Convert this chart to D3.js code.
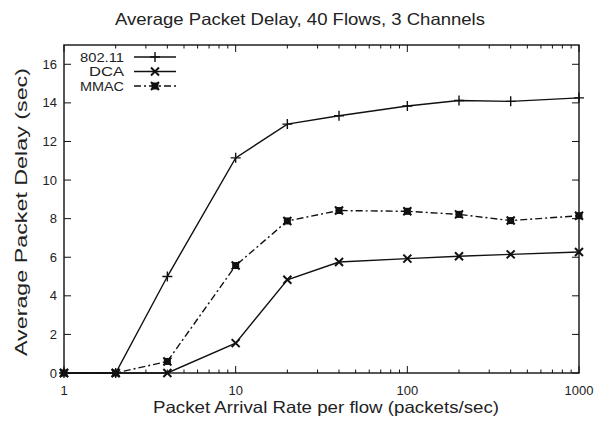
<!DOCTYPE html>
<html>
<head>
<meta charset="utf-8">
<script src="https://cdn.jsdelivr.net/npm/d3@7"></script>
<style>
  body { margin: 0; background: #fff; }
  svg { display: block; font-family: "Liberation Sans", Arial, sans-serif; }
  .lbl { fill: #222; }
</style>
</head>
<body>
<svg id="chart" width="599" height="423"></svg>
<script>
var rates = [1, 2, 4, 10, 20, 40, 100, 200, 400, 1000];
var delay80211 = [0, 0, 5.0, 11.15, 12.9, 13.33, 13.84, 14.12, 14.08, 14.26];
var delayDCA = [0, 0, 0, 1.55, 4.83, 5.75, 5.93, 6.05, 6.15, 6.27];
var delayMMAC = [0, 0, 0.6, 5.57, 7.88, 8.42, 8.38, 8.22, 7.9, 8.15];
var seriesNames = ["802.11", "DCA", "MMAC"];
var xTickLabels = [1, 10, 100, 1000];
var yTickLabels = [0, 2, 4, 6, 8, 10, 12, 14, 16];

var svg = d3.select("#chart"),
    MARGINS = { top: 45, right: 20, bottom: 50, left: 64 },
    WIDTH = 599,
    HEIGHT = 423;

var xScale = d3.scaleLog()
    .domain([1, 1000])
    .range([MARGINS.left, WIDTH - MARGINS.right]);
var yScale = d3.scaleLinear()
    .domain([0, 17])
    .range([HEIGHT - MARGINS.bottom, MARGINS.top]);

var x0 = MARGINS.left, x1 = WIDTH - MARGINS.right,
    y0 = HEIGHT - MARGINS.bottom, y1 = MARGINS.top;

// minor ticks on the log axis
var minor = [];
[1, 10, 100].forEach(function(d) {
  for (var k = 2; k <= 9; k++) minor.push(d * k);
});

var ink = "#111";
var g = svg.append("g");

// ticks (inward, mirrored)
minor.forEach(function(v) {
  var x = xScale(v);
  g.append("line").attr("x1", x).attr("x2", x).attr("y1", y0).attr("y2", y0 - 3.5).attr("stroke", ink);
  g.append("line").attr("x1", x).attr("x2", x).attr("y1", y1).attr("y2", y1 + 3.5).attr("stroke", ink);
});
xTickLabels.forEach(function(v) {
  var x = xScale(v);
  g.append("line").attr("x1", x).attr("x2", x).attr("y1", y0).attr("y2", y0 - 7).attr("stroke", ink);
  g.append("line").attr("x1", x).attr("x2", x).attr("y1", y1).attr("y2", y1 + 7).attr("stroke", ink);
  g.append("text").attr("class", "lbl")
    .attr("x", x).attr("y", y0 + 22)
    .attr("text-anchor", "middle").attr("font-size", 13)
    .text(v);
});
yTickLabels.forEach(function(v) {
  var y = yScale(v);
  g.append("line").attr("x1", x0).attr("x2", x0 + 7).attr("y1", y).attr("y2", y).attr("stroke", ink);
  g.append("line").attr("x1", x1).attr("x2", x1 - 7).attr("y1", y).attr("y2", y).attr("stroke", ink);
  g.append("text").attr("class", "lbl")
    .attr("x", x0 - 7).attr("y", y + 4.5)
    .attr("text-anchor", "end").attr("font-size", 13)
    .text(v);
});

// frame
g.append("rect")
  .attr("x", x0).attr("y", y1)
  .attr("width", x1 - x0).attr("height", y0 - y1)
  .attr("fill", "none").attr("stroke", ink).attr("stroke-width", 1.4);

// markers
function plusMark(sel, x, y, s) {
  sel.append("path").attr("d", "M" + (x - s) + "," + y + "H" + (x + s) + "M" + x + "," + (y - s) + "V" + (y + s))
    .attr("stroke", ink).attr("stroke-width", 1.4).attr("fill", "none");
}
function crossMark(sel, x, y, s) {
  sel.append("path").attr("d", "M" + (x - s) + "," + (y - s) + "L" + (x + s) + "," + (y + s) +
      "M" + (x - s) + "," + (y + s) + "L" + (x + s) + "," + (y - s))
    .attr("stroke", ink).attr("stroke-width", 2).attr("fill", "none");
}
function boxMark(sel, x, y, s) {
  sel.append("rect").attr("x", x - s).attr("y", y - s).attr("width", 2 * s).attr("height", 2 * s)
    .attr("fill", ink);
  crossMark(sel, x, y, s + 0.5);
}

var series = [
  { name: seriesNames[0], values: delay80211, dash: null, mark: plusMark, size: 5, w: 44 },
  { name: seriesNames[1], values: delayDCA, dash: null, mark: crossMark, size: 4, w: 35 },
  { name: seriesNames[2], values: delayMMAC, dash: "7,3,2,3", mark: boxMark, size: 3.5, w: 44 }
];

var lineGen = d3.line()
  .x(function(d) { return xScale(d[0]); })
  .y(function(d) { return yScale(d[1]); });

series.forEach(function(s) {
  var pts = rates.map(function(r, i) { return [r, s.values[i]]; });
  g.append("path")
    .attr("d", lineGen(pts))
    .attr("fill", "none")
    .attr("stroke", ink)
    .attr("stroke-width", 1.4)
    .attr("stroke-dasharray", s.dash);
  pts.forEach(function(p) {
    s.mark(g, xScale(p[0]), yScale(p[1]), s.size);
  });
});

// legend
series.forEach(function(s, i) {
  var ly = 57 + i * 14.5;
  g.append("text").attr("class", "lbl")
    .attr("x", 124).attr("y", ly + 4.5)
    .attr("text-anchor", "end").attr("font-size", 12)
    .attr("textLength", s.w).attr("lengthAdjust", "spacingAndGlyphs")
    .text(s.name);
  g.append("line").attr("x1", 134).attr("x2", 176).attr("y1", ly).attr("y2", ly)
    .attr("stroke", ink).attr("stroke-width", 1.4)
    .attr("stroke-dasharray", s.dash);
  s.mark(g, 155, ly, s.size);
});

// titles
svg.append("text").attr("class", "lbl")
  .attr("x", 300).attr("y", 25)
  .attr("text-anchor", "middle").attr("font-size", 16.5)
  .attr("textLength", 370).attr("lengthAdjust", "spacingAndGlyphs")
  .text("Average Packet Delay, 40 Flows, 3 Channels");
svg.append("text").attr("class", "lbl")
  .attr("x", 326).attr("y", 413)
  .attr("text-anchor", "middle").attr("font-size", 16.5)
  .attr("textLength", 346).attr("lengthAdjust", "spacingAndGlyphs")
  .text("Packet Arrival Rate per flow (packets/sec)");
svg.append("text").attr("class", "lbl")
  .attr("transform", "translate(27,212) rotate(-90)")
  .attr("text-anchor", "middle").attr("font-size", 16.5)
  .attr("textLength", 288).attr("lengthAdjust", "spacingAndGlyphs")
  .text("Average Packet Delay (sec)");
</script>
</body>
</html>
